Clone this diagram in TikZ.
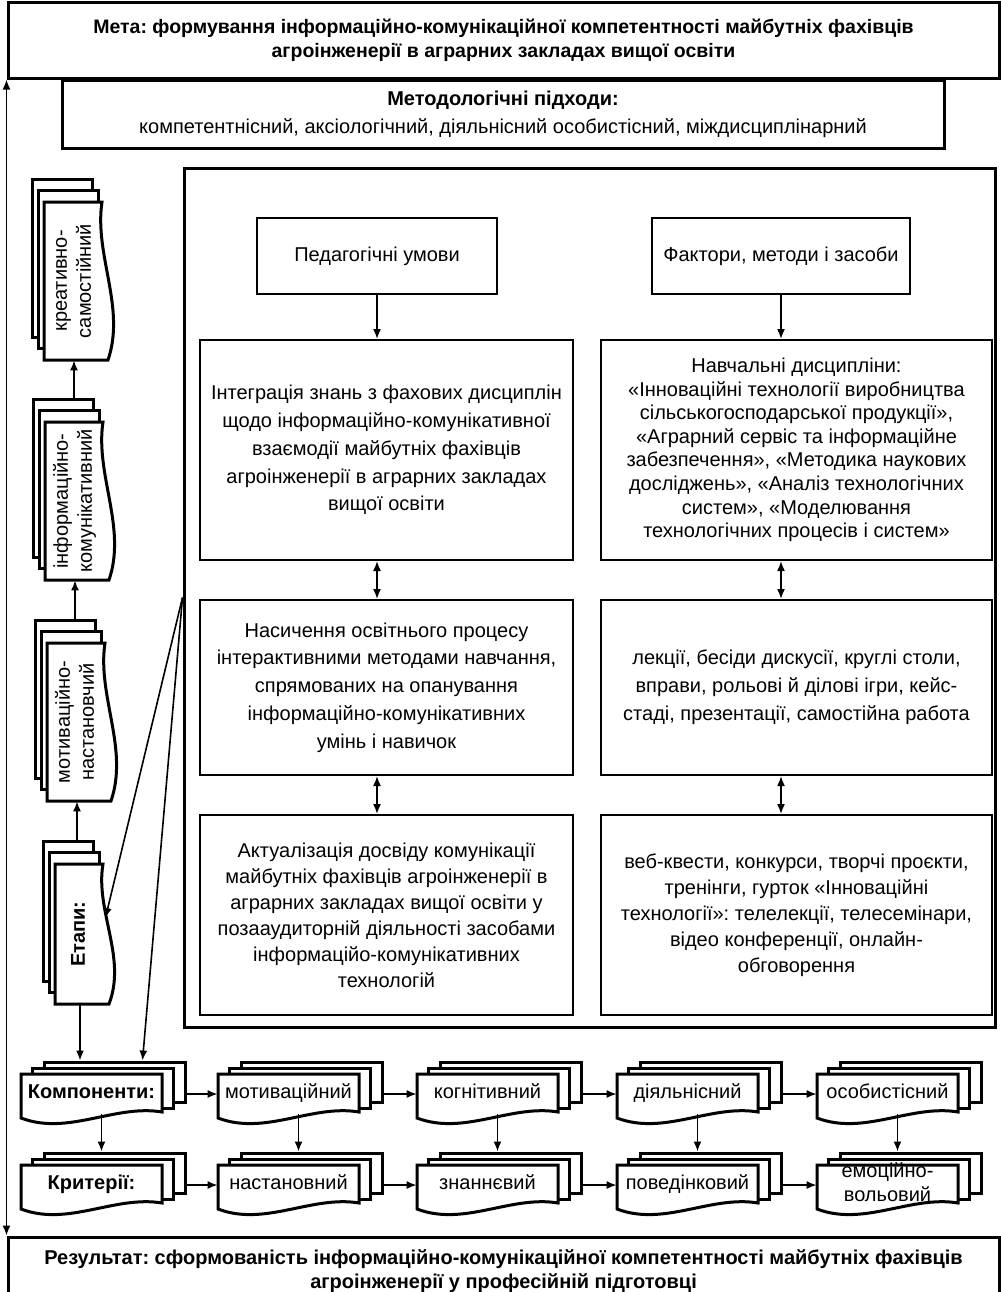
\documentclass[tikz,border=0pt]{standalone}
\usepackage{fontspec}
\setmainfont{Liberation Sans}
\usetikzlibrary{arrows.meta}
\frenchspacing

\tikzset{
  thickbox/.style={draw, line width=1.5pt, align=center, inner sep=0pt},
  thinbox/.style={draw, line width=1pt, align=center, inner sep=0pt},
  sheet/.style={draw, fill=white, line width=1.5pt, inner sep=0pt},
  arr/.style={-{Latex[length=5pt,width=4pt]}, line width=0.8pt},
  dblarr/.style={{Latex[length=5pt,width=4pt]}-{Latex[length=5pt,width=4pt]}, line width=0.8pt},
  titlefont/.style={font=\bfseries\fontsize{9.75}{12}\selectfont}
}

% three stacked sheets: name, centre, width, height, angle, text
\newcommand\docstack[6]{%
  \begin{scope}[shift={#2}, rotate=#5]
    \node[sheet, minimum width=#3*0.5pt, minimum height=#4*0.5pt, rotate=#5] (#1-b) at (23,-12) {};
    \node[sheet, minimum width=#3*0.5pt, minimum height=#4*0.5pt, rotate=#5] (#1-m) at (11.5,-6) {};
    \filldraw[sheet] (-#3/2,-#4/2) -- (#3/2,-#4/2) -- (#3/2,#4/2-2)
      .. controls (#3/6,#4/2-10) and (-#3/6,#4/2+22) .. (-#3/2,#4/2+4) -- cycle;
    \node[minimum width=#3*0.5pt, minimum height=#4*0.5pt, inner sep=0pt, rotate=#5, align=center,
      font=\fontsize{10}{12}\selectfont] (#1) at (0,0) {\strut#6\strut};
  \end{scope}}

\begin{document}
\begin{tikzpicture}[x=0.5pt, y=-0.5pt, font=\fontsize{10}{13.9}\selectfont]
\useasboundingbox (0,0) rectangle (1001,1292);

\node[thickbox, titlefont, minimum width=495.5pt, minimum height=38pt] (meta) at (503.5,40)
  {Мета: формування інформаційно-комунікаційної компетентності майбутніх фахівців\\агроінженерії в аграрних закладах вищої освіти};

\node[thickbox, minimum width=441pt, minimum height=34pt, font=\fontsize{10}{14}\selectfont] (metod) at (503,114)
  {{\bfseries Методологічні підходи:}\\компетентнісний, аксіологічний, діяльнісний особистісний, міждисциплінарний};

\node[thickbox, minimum width=405.5pt, minimum height=429.5pt] (frame) at (589.5,597.5) {};

\node[thinbox, minimum width=120pt, minimum height=38pt] (pedum) at (377,256) {Педагогічні умови};
\node[thinbox, minimum width=129pt, minimum height=38pt] (faktor) at (781,256) {Фактори, методи і засоби};

\node[thinbox, minimum width=186.5pt, minimum height=110pt] (integr) at (386.5,450)
  {Інтеграція знань з фахових дисциплін\\щодо інформаційно-комунікативної\\взаємодії майбутніх фахівців\\агроінженерії в аграрних закладах\\вищої освіти};
\node[thinbox, minimum width=195.5pt, minimum height=110pt, font=\fontsize{10}{11.8}\selectfont] (dysc) at (796.5,450)
  {Навчальні дисципліни:\\«Інноваційні технології виробництва\\сільськогосподарської продукції»,\\«Аграрний сервіс та інформаційне\\забезпечення», «Методика наукових\\досліджень», «Аналіз технологічних\\систем», «Моделювання\\технологічних процесів і систем»};

\node[thinbox, minimum width=186.5pt, minimum height=87.5pt] (nasych) at (386.5,687.5)
  {Насичення освітнього процесу\\інтерактивними методами навчання,\\спрямованих на опанування\\інформаційно-комунікативних\\умінь і навичок};
\node[thinbox, minimum width=195.5pt, minimum height=87.5pt] (lekts) at (796.5,687.5)
  {лекції, бесіди дискусії, круглі столи,\\вправи, рольові й ділові ігри, кейс-\\стаді, презентації, самостійна работа};

\node[thinbox, minimum width=186.5pt, minimum height=100pt, font=\fontsize{10}{13}\selectfont] (aktual) at (386.5,915)
  {Актуалізація досвіду комунікації\\майбутніх фахівців агроінженерії в\\аграрних закладах вищої освіти у\\позааудиторній діяльності засобами\\інформаційо-комунікативних\\технологій};
\node[thinbox, minimum width=195.5pt, minimum height=100pt, font=\fontsize{10}{13}\selectfont] (vebkv) at (796.5,915)
  {веб-квести, конкурси, творчі проєкти,\\тренінги, гурток «Інноваційні\\технології»: телелекції, телесемінари,\\відео конференції, онлайн-\\обговорення};

\draw[arr] (pedum.south) -- (pedum.south |- integr.north);
\draw[arr] (faktor.south) -- (faktor.south |- dysc.north);
\draw[dblarr] (integr.south -| pedum) -- (nasych.north -| pedum);
\draw[dblarr] (nasych.south -| pedum) -- (aktual.north -| pedum);
\draw[dblarr] (dysc.south -| faktor) -- (lekts.north -| faktor);
\draw[dblarr] (lekts.south -| faktor) -- (vebkv.north -| faktor);

\docstack{kreat}{(74,281)}{158}{60}{90}{креативно-\\самостійний}
\docstack{inform}{(75,501)}{158}{60}{90}{інформаційно-\\комунікативний}
\docstack{motnast}{(77,722)}{158}{60}{90}{мотиваційно-\\настановчий}
\docstack{etapy}{(80,934)}{140}{50}{90}{\bfseries Етапи:}

\draw[arr] (kreat.west |- inform-b.east) -- (kreat.west);
\draw[arr] (inform.west |- motnast-b.east) -- (inform.west);
\draw[arr] (motnast.west |- etapy-b.east) -- (motnast.west);

\docstack{komp}{(91.5,1094)}{141}{40}{0}{\bfseries Компоненти:}
\docstack{motiv}{(288.5,1094)}{141}{40}{0}{мотиваційний}
\docstack{kogn}{(487.5,1094)}{141}{40}{0}{когнітивний}
\docstack{diial}{(687.5,1094)}{141}{40}{0}{діяльнісний}
\docstack{osob}{(887.5,1094)}{141}{40}{0}{особистісний}

\docstack{krit}{(91.5,1185)}{141}{40}{0}{\bfseries Критерії:}
\docstack{nast}{(288.5,1185)}{141}{40}{0}{настановний}
\docstack{znan}{(487.5,1185)}{141}{40}{0}{знаннєвий}
\docstack{poved}{(687.5,1185)}{141}{40}{0}{поведінковий}
\docstack{emoc}{(887.5,1185)}{141}{40}{0}{емоційно-\\вольовий}

\draw[arr] (frame.west) -- ([yshift=8pt]etapy.south);
\draw[arr] (frame.west) -- ([xshift=14pt]komp-b.north);
\draw[arr] (etapy.west) -- (etapy.west |- komp-b.north);

\draw[arr] (komp-b.east |- komp) -- (motiv.west);
\draw[arr] (motiv-b.east |- motiv) -- (kogn.west);
\draw[arr] (kogn-b.east |- kogn) -- (diial.west);
\draw[arr] (diial-b.east |- diial) -- (osob.west);

\draw[arr] (krit-b.east |- krit) -- (nast.west);
\draw[arr] (nast-b.east |- nast) -- (znan.west);
\draw[arr] (znan-b.east |- znan) -- (poved.west);
\draw[arr] (poved-b.east |- poved) -- (emoc.west);

\draw[arr] ([xshift=5pt]komp.south) -- ([xshift=5pt]komp.south |- krit-b.north);
\draw[arr] ([xshift=5pt]motiv.south) -- ([xshift=5pt]motiv.south |- nast-b.north);
\draw[arr] ([xshift=5pt]kogn.south) -- ([xshift=5pt]kogn.south |- znan-b.north);
\draw[arr] ([xshift=5pt]diial.south) -- ([xshift=5pt]diial.south |- poved-b.north);
\draw[arr] ([xshift=5pt]osob.south) -- ([xshift=5pt]osob.south |- emoc-b.north);

\node[thickbox, font=\bfseries\fontsize{10}{12}\selectfont, minimum width=495.5pt, minimum height=34pt] (rez) at (503.5,1271)
  {Результат: сформованість інформаційно-комунікаційної компетентності майбутніх фахівців\\агроінженерії у професійній підготовці};

\draw[dblarr] (meta.south west) -- (rez.north west);
\end{tikzpicture}
\end{document}
